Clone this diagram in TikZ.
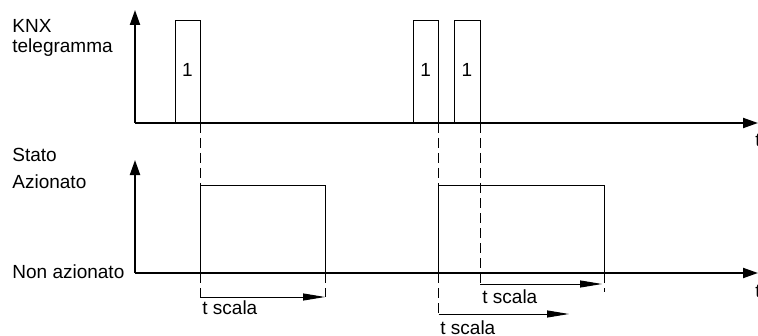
\documentclass[tikz,border=0pt]{standalone}
\usepackage{fontspec}
\setmainfont{Liberation Sans}
\usetikzlibrary{
  arrows.meta,
  positioning,
  calc
}
\tikzset{
  axis/.style={
    line width=1pt,
    -{Triangle[length=7.5pt,width=5pt]}
  },
  pulse/.style={
    line width=0.5pt,
    draw=black
  },
  guide/.style={
    line width=0.5pt,
    dash pattern=on 5pt off 2.5pt
  },
  span/.style={
    line width=0.5pt,
    -{Triangle[length=11pt,width=3.5pt]}
  },
  lbl/.style={
    font=\fontsize{9.5}{10}\selectfont,
    inner sep=0pt
  }
}

\begin{document}
\begin{tikzpicture}[x=0.5pt,y=-0.5pt]
\useasboundingbox (0,0) rectangle (758,336);

% axes
\coordinate (o1) at (135,123);
\coordinate (y1) at (135,10);
\coordinate (t1) at (758,123);
\coordinate (o2) at (135,273);
\coordinate (y2) at (135,160);
\coordinate (t2) at (758,273);
\draw[axis] (o1) -- (y1);
\draw[axis] (o1) -- (t1);
\draw[axis] (o2) -- (y2);
\draw[axis] (o2) -- (t2);

% labels
\node[lbl, anchor=base west] (knx) at (12,33) {KNX};
\node[lbl, anchor=base west] (tele) at (12,53) {telegramma};
\node[lbl, anchor=base west] (stato) at (12,162) {Stato};
\node[lbl, anchor=base west] (on) at (12,188) {Azionato};
\node[lbl, anchor=base west] (off) at (12,278) {Non azionato};
\node[lbl, anchor=base west] (tt1) at (755,147) {t};
\node[lbl, anchor=base west] (tt2) at (755,297) {t};

% telegrams
\foreach \a/\b [count=\i] in {175/200, 413/438.5, 454/480} {
  \draw[pulse] (\a,123) |- (\b,21) -- (\b,123);
  \node[lbl, anchor=base] (tg\i) at ({(\a+\b)/2},77) {1};
}

% states
\draw[pulse] (200,273) |- (325,185) -- (325,273);
\draw[pulse] (438.5,273) |- (604,185) -- (604,273);

% guides
\coordinate (g1) at (200,297);
\coordinate (g2) at (325,297);
\coordinate (g3) at (438.5,314);
\coordinate (g4) at (480,284);
\coordinate (g5) at (604,292);
\draw[guide] (200,123) -- (g1);
\draw[guide] (325,273) -- (g2);
\draw[guide] (438.5,123) -- (g3);
\draw[guide] (480,123) -- (g4);
\draw[guide] (604,273) -- (g5);

% t scala
\draw[span] (g1) -- (g2);
\draw[span] (g4) -- (602,284);
\draw[span] (g3) -- (569,314);
\node[lbl, anchor=base west] (sc1) at (202,314) {t scala};
\node[lbl, anchor=base west] (sc2) at (482,303) {t scala};
\node[lbl, anchor=base west] (sc3) at (440,334) {t scala};
\end{tikzpicture}
\end{document}
